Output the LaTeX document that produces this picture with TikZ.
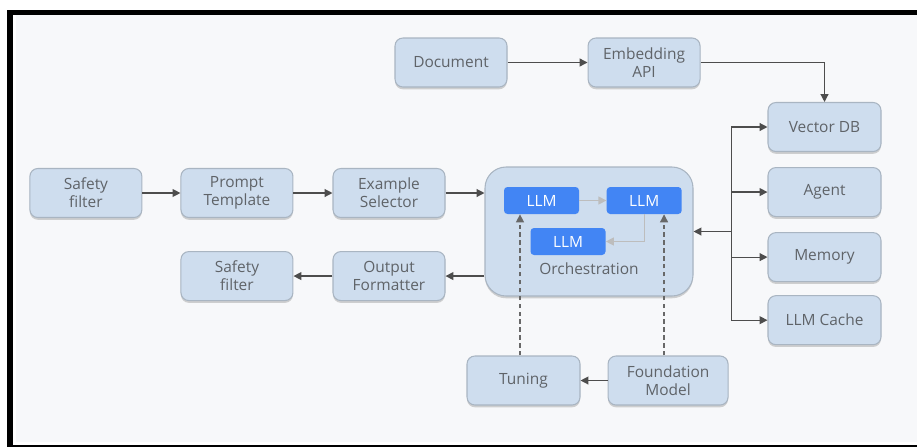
\documentclass[tikz,border=0pt]{standalone}
\usepackage{fontspec}
\setmainfont{Open Sans}
\usetikzlibrary{arrows.meta,positioning,calc,shadows}
\definecolor{BoxBlue}{HTML}{CEDDEE}
\definecolor{BoxEdge}{HTML}{A9B5C2}
\definecolor{BoxText}{HTML}{5F6368}
\definecolor{LlmBlue}{HTML}{4285F4}
\definecolor{LinkGrey}{HTML}{4D4D4D}
\definecolor{SoftGrey}{HTML}{BDBDBD}
\definecolor{PageBg}{HTML}{F7F8FA}

\begin{document}
\begin{tikzpicture}[
  font=\fontsize{8.8}{10.2}\selectfont,
  block/.style={rounded corners=4.5pt,draw=BoxEdge,line width=0.6pt,fill=BoxBlue,
    minimum width=2.24cm,minimum height=0.98cm,align=center,text=BoxText,inner sep=2pt,
    drop shadow={shadow xshift=0pt,shadow yshift=-1.3pt,opacity=0.35}},
  orchbox/.style={block,rounded corners=12pt,minimum width=4.16cm,minimum height=2.58cm},
  llm/.style={rounded corners=2pt,fill=LlmBlue,text=white,
    minimum width=1.5cm,minimum height=0.54cm,inner sep=1pt},
  link/.style={-{Triangle[length=4.5pt,width=4.5pt]},line width=0.7pt,draw=LinkGrey},
  softlink/.style={link,draw=SoftGrey},
  tunelink/.style={link,dash pattern=on 2.5pt off 2pt,draw=LinkGrey!85}
]
\useasboundingbox (0,0) rectangle (18.34,-8.94);
% frame and page
\fill[white] (0,0) rectangle (18.34,-8.94);
\fill[black] (0.14,-0.2) rectangle (18.34,-0.3);
\fill[black] (0.14,-0.2) rectangle (0.26,-8.94);
\fill[black] (0.14,-8.9) rectangle (18.34,-8.94);
\fill[PageBg] (0.32,-0.3) rectangle (18.34,-8.84);
\node[font=\fontsize{15}{18}\selectfont,anchor=base,inner sep=0pt] (capfrag) at (2.08,0.16) {g};

% ingestion
\node[block] (doc) at (9.02,-1.25) {Document};
\node[block,right=1.6cm of doc] (embed) {Embedding\\API};

% prompt side
\node[block] (example) at (7.78,-3.86) {Example\\Selector};
\node[block,left=0.78cm of example] (prompt) {Prompt\\Template};
\node[block,left=0.76cm of prompt] (safetyin) {Safety\\filter};
\node[block,below=0.66cm of example] (formatter) {Output\\Formatter};
\node[block,left=0.78cm of formatter] (safetyout) {Safety\\filter};

% orchestration
\node[orchbox] (orch) at (11.78,-4.63) {};
\node[llm] (llma) at (10.83,-4.01) {LLM};
\node[llm,right=0.54cm of llma] (llmb) {LLM};
\node[llm] (llmc) at (11.36,-4.83) {LLM};
\node[text=BoxText,anchor=north] (orchlabel) at ($(llmc.south -| orch.center)+(0,-0.03)$) {Orchestration};

% components
\node[block,minimum width=2.26cm] (vecdb) at (16.49,-2.54) {Vector DB};
\node[block,minimum width=2.26cm,below=0.3cm of vecdb] (agent) {Agent};
\node[block,minimum width=2.26cm,below=0.3cm of agent] (memory) {Memory};
\node[block,minimum width=2.26cm,below=0.26cm of memory] (cache) {LLM Cache};

% models
\node[block,minimum width=2.26cm] (tuning) at (10.47,-7.61) {Tuning};
\node[block,minimum width=2.4cm,right=0.54cm of tuning] (found) {Foundation\\Model};

\draw[link] (doc) -- (embed);
\draw[link] (embed) -| (vecdb);
\draw[link] (safetyin) -- (prompt);
\draw[link] (prompt) -- (example);
\draw[link] (example) -- (example -| orch.west);
\draw[link] (formatter -| orch.west) -- (formatter);
\draw[link] (formatter) -- (safetyout);
\draw[softlink] (llma) -- (llmb);
\draw[softlink] (llmb) |- (llmc);

\coordinate[right=0.76cm of orch.east] (hub);
\draw[link] (hub) -- (orch.east);
\foreach \comp in {vecdb,agent,memory,cache}
  \draw[link] (hub) |- (\comp);

\draw[link] (found) -- (tuning);
\draw[tunelink] ([xshift=-0.07cm]tuning.north) -- ([xshift=-0.07cm]tuning.north |- llma.south);
\draw[tunelink] ([xshift=-0.08cm]found.north) -- ([xshift=-0.08cm]found.north |- llmb.south);
\end{tikzpicture}
\end{document}
